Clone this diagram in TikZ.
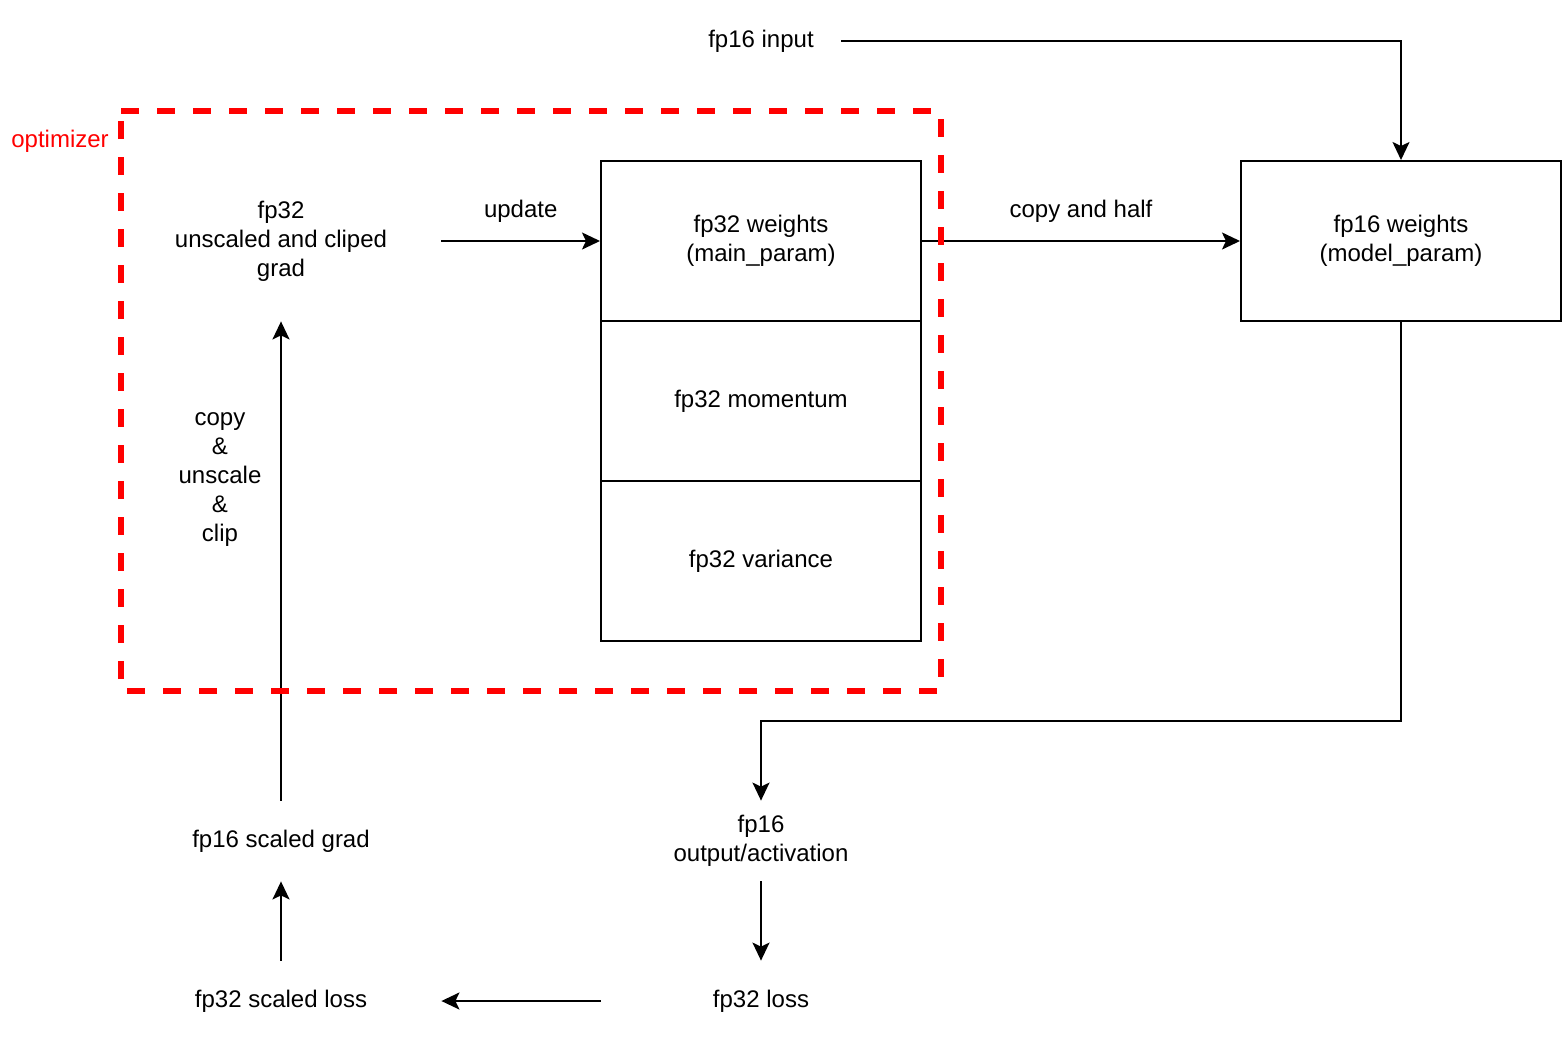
\documentclass[tikz,border=0pt]{standalone}
\usepackage{fontspec}
\setmainfont{Liberation Sans}
\usetikzlibrary{arrows.meta}
\definecolor{optred}{RGB}{255,0,0}
\begin{document}
\begin{tikzpicture}[x=0.5pt,y=-0.5pt,
  lbl/.style={font=\fontsize{12}{14.5}\selectfont, align=center, inner sep=0pt},
  box/.style={draw, line width=1pt, lbl, minimum width=160pt, minimum height=80pt},
  txt/.style={lbl, minimum width=160pt, minimum height=40pt},
  arr/.style={line width=1pt, -{Stealth[length=9pt,width=8.5pt,inset=2pt]}},
  optbox/.style={optred, line width=3pt, dash pattern=on 9pt off 9pt}]
\useasboundingbox (0,0) rectangle (1562,1040);
% boxes
\node[box] (w32) at (761,241) {fp32 weights\\(main\_param)};
\node[box] (mom) at (761,401) {fp32 momentum};
\node[box] (var) at (761,561) {fp32 variance};
\node[box] (w16) at (1401,241) {fp16 weights\\(model\_param)};
% plain text nodes
\node[lbl, minimum width=80pt, minimum height=20pt] (in) at (761,41) {fp16 input};
\node[lbl, minimum width=160pt, minimum height=80pt] (grad) at (281,241) {fp32\\unscaled and cliped\\grad};
\node[txt] (sgrad) at (281,841) {fp16 scaled grad};
\node[txt] (sloss) at (281,1001) {fp32 scaled loss};
\node[txt] (out) at (761,841) {fp16\\output/activation};
\node[txt] (loss) at (761,1001) {fp32 loss};
\node[lbl, text=optred] (optlbl) at (60,141) {optimizer};
\coordinate (bend) at (761,721);
% connectors
\draw[arr] (in.east) -| (w16.north);
\draw[arr] (grad.east) -- node[lbl, midway, yshift=15pt] (updlbl) {update} (w32.west);
\draw[arr] (w32.east) -- node[lbl, midway, yshift=15pt] (cphlbl) {copy and half} (w16.west);
\draw[arr] (w16.south) |- (bend) -- (out.north);
\draw[arr] (out.south) -- (loss.north);
\draw[arr] (loss.west) -- (sloss.east);
\draw[arr] (sloss.north) -- (sgrad.south);
\draw[arr] (sgrad.north) -- node[lbl, pos=0.67, xshift=-30.5pt] (cuclbl) {copy\\\&\\unscale\\\&\\clip} (grad.south);
% optimizer frame
\draw[optbox] (121,111) -- (941,111) -- (941,691) -- (121,691) -- cycle;
\end{tikzpicture}
\end{document}
